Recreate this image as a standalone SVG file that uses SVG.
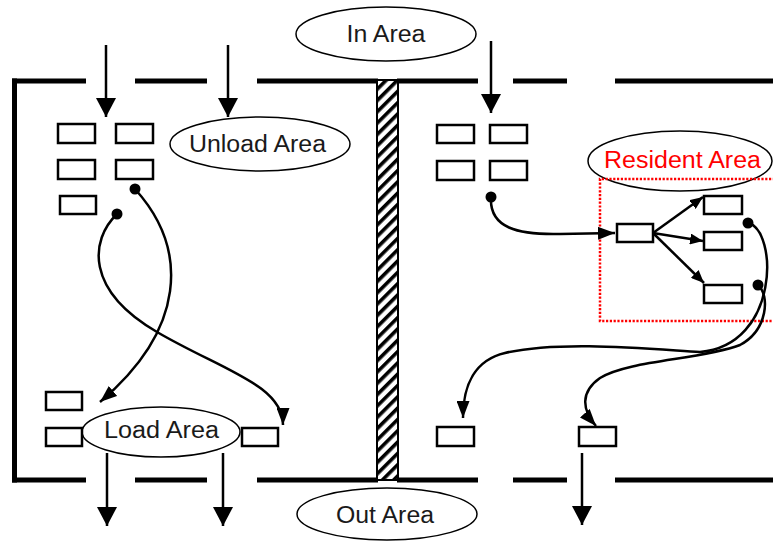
<svg xmlns="http://www.w3.org/2000/svg" width="773" height="541" viewBox="0 0 773 541">
<style>
.wall{fill:#000}
.box{fill:#fff;stroke:#000;stroke-width:2.5}
.ell{fill:#fff;stroke:#000;stroke-width:1.5}
.lbl{font-family:"Liberation Sans",Arial,sans-serif;font-size:23.5px;fill:#1a1a1a;text-anchor:middle}
.con{fill:none;stroke:#000;stroke-width:2.5}
.dot{fill:#000}
</style>
<defs>
<pattern id="hatch" patternUnits="userSpaceOnUse" width="8" height="8" patternTransform="rotate(45)">
<rect width="8" height="8" fill="#fff"/>
<rect x="0" y="0" width="3.6" height="8" fill="#000"/>
</pattern>
<marker id="big" viewBox="0 0 19 20" refX="19" refY="10" markerWidth="19" markerHeight="20" markerUnits="userSpaceOnUse" orient="auto"><path d="M0,0 L19,10 L0,20 z" fill="#000"/></marker>
<marker id="mid" viewBox="0 0 17 13" refX="17" refY="6.5" markerWidth="17" markerHeight="13" markerUnits="userSpaceOnUse" orient="auto"><path d="M0,0 L17,6.5 L0,13 z" fill="#000"/></marker>
<marker id="small" viewBox="0 0 13 11" refX="13" refY="5.5" markerWidth="13" markerHeight="11" markerUnits="userSpaceOnUse" orient="auto"><path d="M0,0 L13,5.5 L0,11 z" fill="#000"/></marker>
</defs>

<g id="walls">
<rect class="wall" x="12" y="78.5" width="5" height="404"/>
<rect class="wall" x="12" y="78.5" width="74" height="5"/>
<rect class="wall" x="135" y="78.5" width="72" height="5"/>
<rect class="wall" x="257" y="78.5" width="121" height="5"/>
<rect class="wall" x="397" y="78.5" width="81" height="5"/>
<rect class="wall" x="513" y="78.5" width="54" height="5"/>
<rect class="wall" x="615" y="78.5" width="158" height="5"/>
<rect class="wall" x="12" y="477.5" width="74" height="5"/>
<rect class="wall" x="135" y="477.5" width="72" height="5"/>
<rect class="wall" x="257" y="477.5" width="121" height="5"/>
<rect class="wall" x="397" y="477.5" width="81" height="5"/>
<rect class="wall" x="513" y="477.5" width="54" height="5"/>
<rect class="wall" x="615" y="477.5" width="158" height="5"/>
</g>
<g id="divider">
<rect x="377" y="80" width="21" height="400" fill="url(#hatch)" stroke="#000" stroke-width="2"/>
</g>

<g id="in-area"><ellipse class="ell" cx="386" cy="34" rx="90" ry="27"/><text class="lbl" x="386" y="42" textLength="79" lengthAdjust="spacingAndGlyphs">In Area</text></g>
<g id="out-area"><ellipse class="ell" cx="387" cy="514" rx="90" ry="26"/><text class="lbl" x="385" y="522.5" textLength="98" lengthAdjust="spacingAndGlyphs">Out Area</text></g>
<g id="unload-area"><ellipse class="ell" cx="260" cy="144" rx="90" ry="27"/><text class="lbl" x="257.5" y="152" textLength="137" lengthAdjust="spacingAndGlyphs">Unload Area</text></g>
<g id="load-area"><ellipse class="ell" cx="161" cy="432" rx="79" ry="25"/><text class="lbl" x="161.5" y="438" textLength="115" lengthAdjust="spacingAndGlyphs">Load Area</text></g>
<g id="resident-area"><ellipse class="ell" cx="680" cy="161" rx="92" ry="30"/><text class="lbl" x="682.5" y="168" textLength="157" lengthAdjust="spacingAndGlyphs" style="fill:#ff0000">Resident Area</text>
<path d="M775,179 H600 V321 H775" fill="none" stroke="#ff0000" stroke-width="2.5" stroke-dasharray="2.2,1.6"/></g>

<g id="boxes-left">
<rect id="bl1" class="box" x="58" y="124" width="37" height="19"/>
<rect id="bl2" class="box" x="116" y="124" width="37" height="19"/>
<rect id="bl3" class="box" x="58" y="160" width="37" height="19"/>
<rect id="bl4" class="box" x="116" y="160" width="37" height="19"/>
<rect id="bl5" class="box" x="60" y="196" width="36" height="18"/>
<rect id="ll1" class="box" x="46" y="392" width="36" height="18"/>
<rect id="ll2" class="box" x="46" y="428" width="36" height="18"/>
<rect id="ll3" class="box" x="242" y="428" width="36" height="18"/>
</g>
<g id="boxes-right">
<rect id="br1" class="box" x="437" y="125" width="37" height="18"/>
<rect id="br2" class="box" x="490" y="125" width="37" height="18"/>
<rect id="br3" class="box" x="437" y="161" width="37" height="19"/>
<rect id="br4" class="box" x="490" y="161" width="37" height="19"/>
<rect id="rc" class="box" x="617" y="224" width="36" height="18"/>
<rect id="r1" class="box" x="704" y="196" width="38" height="18"/>
<rect id="r2" class="box" x="704" y="232" width="38" height="18"/>
<rect id="r3" class="box" x="704" y="285" width="38" height="18"/>
<rect id="rl1" class="box" x="437" y="427" width="37" height="19"/>
<rect id="rl2" class="box" x="579" y="427" width="37" height="19"/>
</g>

<g id="connectors">
<path class="con" d="M106,45 V117" marker-end="url(#big)"/>
<path class="con" d="M228,45 V117" marker-end="url(#big)"/>
<path class="con" d="M491,41 V113" marker-end="url(#big)"/>
<path class="con" d="M107,453 V526" marker-end="url(#big)"/>
<path class="con" d="M223,453 V526" marker-end="url(#big)"/>
<path class="con" d="M582,453 V525" marker-end="url(#big)"/>

<circle class="dot" cx="135" cy="189" r="5.5"/>
<circle class="dot" cx="117" cy="214" r="5.5"/>
<path class="con" d="M135,189 C190,250 185,330 100,402" marker-end="url(#mid)"/>
<path class="con" d="M117,214 C90,240 85,290 157,332 C222,370 283,385 283,425" marker-end="url(#mid)"/>

<circle class="dot" cx="491" cy="197" r="5.5"/>
<path class="con" d="M491,197 C489,228 518,235 560,234 L615,233" marker-end="url(#mid)"/>
<path class="con" d="M653,233 L703,197" marker-end="url(#small)"/>
<path class="con" d="M653,233 L703,241" marker-end="url(#small)"/>
<path class="con" d="M653,233 L704,283" marker-end="url(#small)"/>

<circle class="dot" cx="748" cy="223" r="5.5"/>
<circle class="dot" cx="758" cy="285" r="5.5"/>
<path class="con" d="M748,223 C778,230 780,345 700,352 C650,349 560,340 505,353 C475,360 463,385 463,418" marker-end="url(#mid)"/>
<path class="con" d="M758,285 C770,295 768,330 740,345 C700,360 630,360 600,378 C580,392 582,410 596,426" marker-end="url(#mid)"/>
</g>
</svg>
